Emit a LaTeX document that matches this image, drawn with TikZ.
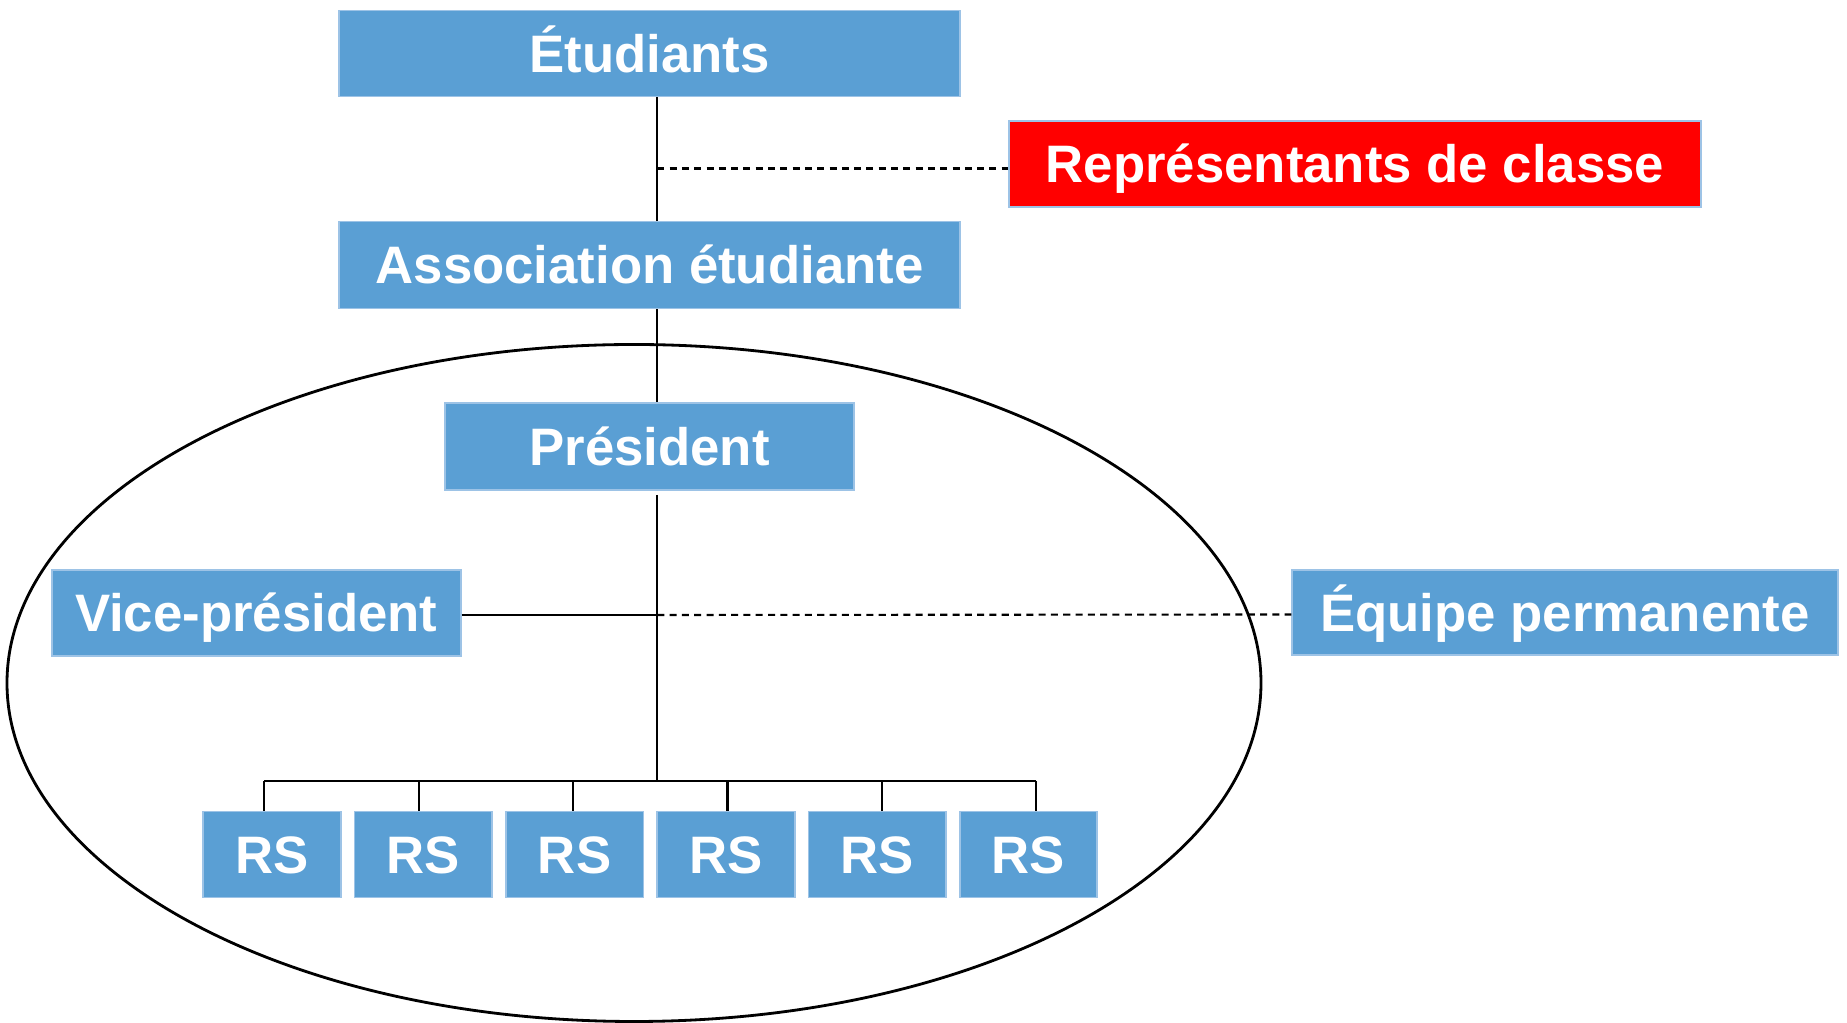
\documentclass[tikz,border=0pt]{standalone}
\usepackage{fontspec}
\setmainfont{Liberation Sans}
\usetikzlibrary{calc}

\definecolor{boxblue}{HTML}{5A9FD4}
\definecolor{boxedge}{HTML}{9DC3E6}
\definecolor{boxred}{HTML}{FF0000}

\tikzset{
	orgbox/.style={draw=boxedge, line width=0.5pt, fill=boxblue, text=white,
		font=\fontsize{15}{18}\selectfont\bfseries, inner sep=0pt,
		text height=0.375cm, text depth=0pt, minimum height=0.86cm},
	rsbox/.style={orgbox, minimum width=1.376cm},
	link/.style={line width=0.6pt},
	dotlink/.style={line width=0.6pt, dash pattern=on 2pt off 1.5pt}
}

\begin{document}
\begin{tikzpicture}
	
	\useasboundingbox (0,0) rectangle (18.47,-10.23);
	
	% Coordinates
	\coordinate (spine) at (6.573,0);
	\coordinate (bus) at (6.573,-7.81);
	
	% Ellipse round the bureau
	\draw [line width=0.8pt] (6.34,-6.83) ellipse [x radius=6.27, y radius=3.385];
	
	% Boxes
	\node [orgbox, minimum width=6.21cm] (etud) at (6.496,-0.536) {Étudiants};
	\node [orgbox, fill=boxred, minimum width=6.915cm] (repr) at (13.55,-1.64) {Représentants de classe};
	\node [orgbox, minimum width=6.21cm, minimum height=0.87cm] (assoc) at (6.496,-2.65) {Association étudiante};
	\node [orgbox, minimum width=4.09cm, minimum height=0.87cm] (pres) at (6.496,-4.465) {Président};
	\node [orgbox, minimum width=4.09cm] (vice) at (2.562,-6.13) {Vice-président};
	\node [orgbox, minimum width=5.455cm, minimum height=0.85cm] (equipe) at (15.65,-6.125) {Équipe permanente};
	\foreach \i in {1,...,6}{
		\node [rsbox] (rs\i) at ({2.72+1.513*(\i-1)},-8.546) {RS};
		\coordinate (drop\i) at ([xshift={(\i-3.5)*0.031cm}]rs\i.north);
	}
	
	% Links
	\draw [link] (etud.south -| spine) -- (assoc.north -| spine);
	\draw [dotlink] ([yshift=-0.045cm]spine |- repr.west) -- ([yshift=-0.045cm]repr.west);
	\draw [link] (assoc.south -| spine) -- (pres.north -| spine);
	\draw [link] ([yshift=-0.04cm]pres.south -| spine) -- (bus);
	\draw [link] ([yshift=-0.02cm]vice.east) -- ([yshift=-0.02cm]vice.east -| spine);
	\draw [dotlink] ([yshift=-0.02cm]vice.east -| spine) -- ([yshift=-0.02cm]equipe.west);
	\draw [link] (drop1 |- bus) -- (drop6 |- bus);
	\foreach \i in {1,...,6}{
		\draw [link] (drop\i |- bus) -- (drop\i);
	}
	
\end{tikzpicture}
\end{document}
